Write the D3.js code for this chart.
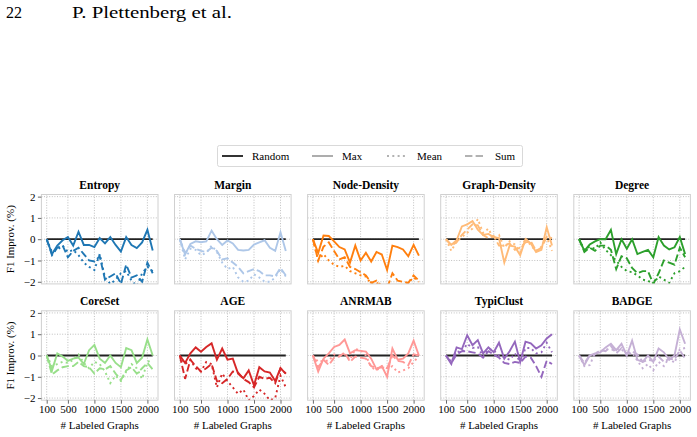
<!DOCTYPE html>
<html>
<head>
<meta charset="utf-8">
<script src="https://cdn.jsdelivr.net/npm/d3@7"></script>
<style>
  body { margin: 0; background: #fff; }
  svg text { font-family: "Liberation Serif", "DejaVu Serif", serif; }
</style>
</head>
<body>
<div id="chart"></div>
<script>
// labeled graph budgets (x axis)
var budgets = [100, 200, 300, 400, 500, 600, 700, 800, 900, 1000, 1100,
               1200, 1300, 1400, 1500, 1600, 1700, 1800, 1900, 2000, 2100];
var xTicks = [100, 500, 1000, 1500, 2000];
var yTicks = [2, 1, 0, -1, -2];

var strategies = ["Entropy", "Margin", "Node-Density", "Graph-Density", "Degree",
                  "CoreSet", "AGE", "ANRMAB", "TypiClust", "BADGE"];
var colors = ["#1f77b4", "#aec7e8", "#ff7f0e", "#ffbb78", "#2ca02c",
              "#98df8a", "#d62728", "#ff9896", "#9467bd", "#c5b0d5"];

// F1 improvement over random (%), per strategy: max / mean / sum
var maxVals = [
  [0, -0.7, -0.3, -0.05, 0.1, -0.3, 0.35, -0.27, -0.27, -0.37, 0.05, -0.2, 0.1, -0.27, -0.58, 0.1, -0.27, -0.42, -0.15, 0.44, -0.53],
  [0, -0.72, -0.22, -0.1, -0.14, -0.1, 0.4, 0.0, -0.27, -0.06, -0.2, -0.5, -0.53, -0.5, -0.25, -0.15, -0.05, -0.4, -0.55, 0.33, -0.55],
  [0, -0.65, 0.17, 0.15, -0.1, -0.37, -0.48, -1.1, -0.3, -1.0, -0.64, -1.05, -0.6, -0.72, -1.45, -0.3, -0.37, -0.48, -0.8, -0.27, -0.77],
  [0, -0.27, -0.05, 0.6, 0.7, 0.85, 0.45, 0.2, 0.25, 0.1, 0.05, -1.1, -0.3, -0.35, -0.75, 0.0, -0.2, -0.6, -0.5, 0.56, -0.3],
  [0, -0.55, -0.25, -0.1, 0.0, 0.0, 0.44, -0.7, 0.0, -0.45, 0.0, -0.7, -0.6, -0.5, -0.85, 0.1, -0.3, -0.48, -0.38, 0.1, -0.7],
  [0, -0.7, 0.1, -0.05, -0.25, -0.15, -0.1, -0.4, 0.25, 0.5, -0.15, -0.35, 0.0, -0.35, -0.55, 0.35, 0.25, -0.35, -0.1, 0.75, 0.0],
  [0, -0.35, 0.1, 0.38, 0.18, 0.4, 0.57, -0.2, 0.33, -0.2, -0.15, -0.85, -1.07, -0.7, -1.4, -0.55, -0.75, -0.8, -1.2, -0.6, -0.85],
  [0, -0.75, -0.15, 0.1, 0.4, 0.5, 0.75, 0.1, 0.25, 0.22, 0.18, -0.15, -0.65, -0.5, -1.0, 0.33, -0.2, -0.15, 0.1, 0.7, 0.0],
  [0, -0.4, 0.38, 0.3, 0.95, 0.48, 0.72, 0.1, 0.38, 0.15, 0.6, -0.15, 0.2, 0.65, -0.3, 0.65, 0.57, 0.33, 0.48, 0.8, 1.0],
  [0, -0.45, 0.0, 0.1, 0.15, 0.38, 0.55, 0.25, 0.55, 0.0, 0.7, -0.2, -0.3, 0.0, -0.3, 0.33, 0.15, -0.2, 0.0, 1.22, 0.55]
];
var meanVals = [
  [0, -0.6, -0.5, -0.3, -0.6, -0.5, -0.75, -1.1, -1.3, -1.45, -0.7, -1.8, -2.1, -1.9, -1.6, -1.5, -1.95, -2.2, -1.6, -1.3, -1.5],
  [0, -0.95, -0.45, -0.5, -0.75, -0.65, -0.3, -0.6, -1.1, -1.4, -1.3, -1.8, -2.0, -1.95, -1.65, -1.8, -2.0, -2.0, -1.8, -1.4, -1.75],
  [0, -1.0, -0.7, -1.0, -1.2, -1.3, -1.25, -1.5, -1.6, -1.7, -1.75, -2.1, -2.05, -2.2, -2.2, -2.3, -2.2, -2.15, -2.05, -1.8, -2.0],
  [0, -0.55, -0.1, 0.1, 0.3, 0.5, 0.95, 0.3, 0.5, 0.0, 0.2, -0.4, -0.1, -0.25, -0.6, 0.05, -0.3, -0.55, -0.35, 0.1, -0.55],
  [0, -0.5, -0.35, -0.45, -0.15, -0.5, -0.75, -1.0, -1.3, -1.5, -1.55, -1.7, -1.9, -1.95, -2.1, -1.75, -1.9, -2.05, -1.6, -1.5, -1.3],
  [0, -0.5, -0.4, -0.3, -0.35, -0.2, 0.05, -0.35, -0.6, -0.3, -0.4, -0.75, -1.3, -0.95, -1.2, -0.75, -0.4, -0.6, -1.1, -0.3, -0.2],
  [0, -0.4, -0.2, -0.6, -0.75, -0.3, -0.4, -1.5, -0.85, -1.2, -1.5, -1.8, -1.6, -2.1, -1.9, -1.6, -1.8, -2.1, -2.0, -0.95, -1.5],
  [0, -0.3, -0.25, -0.25, 0.05, 0.0, 0.05, -0.2, 0.3, 0.25, 0.0, -0.55, -0.7, -0.5, -0.6, -0.5, -0.8, -0.7, -0.6, -0.3, -0.05],
  [0, -0.3, 0.2, 0.15, 0.55, 0.35, 0.4, -0.05, 0.3, 0.25, 0.0, -0.1, -0.2, 0.1, -0.3, 0.35, 0.35, 0.1, 0.15, 0.6, 0.15],
  [0, -0.5, -0.45, 0.1, 0.2, 0.3, 0.25, 0.3, 0.3, 0.0, 0.15, -0.25, -0.6, -0.4, -0.7, -0.3, -0.5, -0.1, -0.35, 0.3, 0.35]
];
var sumVals = [
  [0, -0.75, -0.4, -0.3, -0.85, -0.55, -0.4, -0.7, -1.0, -1.05, -0.8, -1.9, -1.75, -1.6, -2.1, -1.2, -1.8, -1.7, -2.0, -1.1, -1.6],
  [0, -0.65, -0.3, -0.45, -0.55, -0.6, -0.4, -0.55, -0.95, -0.9, -1.1, -1.3, -1.6, -1.5, -1.4, -1.5, -1.7, -1.7, -1.75, -1.35, -1.7],
  [0, -1.0, -0.35, -0.15, -0.55, -0.95, -0.85, -1.3, -1.4, -1.55, -1.7, -2.05, -1.95, -2.2, -2.3, -1.6, -1.95, -2.0, -2.05, -1.7, -1.95],
  [0, -0.3, -0.15, 0.2, 0.45, 0.7, 0.65, 0.2, 0.05, 0.15, -0.3, -0.3, -0.2, -0.5, -0.4, -0.15, -0.1, -0.55, -0.4, 0.1, 0.05],
  [0, -0.6, -0.4, -0.55, -0.3, -0.3, -0.5, -1.4, -0.8, -0.9, -1.35, -1.6, -1.5, -1.5, -2.1, -1.6, -1.0, -1.1, -1.2, -0.4, -0.85],
  [0, -0.9, -0.7, -0.55, -0.5, -0.5, -0.3, -0.5, -0.55, -0.85, -0.6, -0.65, -0.5, -0.85, -1.15, -0.7, -0.55, -0.85, -0.6, -0.35, -0.65],
  [0, -1.1, -0.2, -0.5, -0.75, -0.6, -0.4, -1.2, -1.3, -1.1, -0.75, -0.8, -1.1, -1.25, -1.5, -1.0, -1.1, -1.05, -1.3, -0.6, -0.85],
  [0, -0.55, -0.2, -0.45, -0.1, -0.05, 0.15, -0.3, -0.05, -0.1, -0.15, -0.5, -0.6, -0.55, -0.6, 0.0, -0.25, -0.3, -0.45, 0.05, 0.0],
  [0, -0.35, 0.05, 0.2, 0.2, 0.15, 0.1, -0.1, 0.2, 0.05, -0.1, -0.35, -0.4, -0.3, -0.35, -0.05, -0.1, -0.5, -1.0, -0.25, -0.4],
  [0, -0.35, 0.0, 0.05, 0.25, 0.2, 0.45, 0.1, 0.35, 0.1, 0.2, 0.05, -0.3, -0.2, -0.25, -0.05, -0.3, -0.15, -0.2, 0.25, -0.15]
];

var legendItems = ["Random", "Max", "Mean", "Sum"];

var W = 697, H = 437;
var panelW = 116.6, panelH = 89.4;
var panelX0 = 41.4, panelDX = 133.1;
var rowY = [194.5, 310.8];
var dashes = { mean: "2,3.3", sum: "7.4,3.2" };
var serif = "Liberation Serif, DejaVu Serif, serif";

var svg = d3.select("#chart").append("svg")
    .attr("width", W)
    .attr("height", H)
    .attr("font-family", serif);

function label (g, x, y, size, txt) {
  return g.append("text")
    .attr("x", x).attr("y", y)
    .attr("font-family", serif)
    .attr("font-size", size)
    .text(txt);
}

// running header
label(svg, 6, 18, 16, "22");
label(svg, 72, 18, 16, "P. Plettenberg et al.")
  .attr("textLength", 160).attr("lengthAdjust", "spacingAndGlyphs");

function legend (g) {
  g.append("rect")
    .attr("x", 217.5).attr("y", 145.5)
    .attr("width", 305).attr("height", 21)
    .attr("rx", 2)
    .attr("fill", "#fff").attr("stroke", "#d9d9d9");
  var lx = [222, 312, 387, 465];
  var styles = [
    { c: "#000", d: null },
    { c: "#999", d: null },
    { c: "#999", d: dashes.mean },
    { c: "#999", d: dashes.sum }
  ];
  legendItems.forEach(function (name, i) {
    g.append("line")
      .attr("x1", lx[i]).attr("x2", lx[i] + 21)
      .attr("y1", 156).attr("y2", 156)
      .attr("stroke", styles[i].c)
      .attr("stroke-width", 1.6)
      .attr("stroke-dasharray", styles[i].d);
    label(g, lx[i] + 30, 159.5, 11, name);
  });
}

function panel (i) {
  var row = Math.floor(i / 5), col = i % 5;
  var px = panelX0 + col * panelDX, py = rowY[row];
  var g = svg.append("g").attr("transform", "translate(" + px + "," + py + ")");

  var x = d3.scaleLinear().domain([0, 2200]).range([0, panelW]);
  var y = d3.scaleLinear().domain([-2.1, 2.1]).range([panelH, 0]);

  // grid
  g.selectAll(".gx").data(xTicks).enter().append("line")
    .attr("x1", function (d) { return x(d); }).attr("x2", function (d) { return x(d); })
    .attr("y1", 0).attr("y2", panelH)
    .attr("stroke", "#b0b0b0").attr("stroke-width", 0.8)
    .attr("stroke-dasharray", "1,1.6");
  g.selectAll(".gy").data(yTicks).enter().append("line")
    .attr("x1", 0).attr("x2", panelW)
    .attr("y1", function (d) { return y(d); }).attr("y2", function (d) { return y(d); })
    .attr("stroke", "#b0b0b0").attr("stroke-width", 0.8)
    .attr("stroke-dasharray", "1,1.6");

  var clipId = "clip" + i;
  g.append("clipPath").attr("id", clipId)
    .append("rect").attr("width", panelW).attr("height", panelH);

  var line = d3.line()
    .x(function (d, k) { return x(budgets[k]); })
    .y(function (d) { return y(d); });

  var plot = g.append("g").attr("clip-path", "url(#" + clipId + ")");
  var series = [
    { v: budgets.map(function () { return 0; }), c: "#222", d: null, w: 1.8 },
    { v: maxVals[i], c: colors[i], d: null, w: 1.9 },
    { v: meanVals[i], c: colors[i], d: dashes.mean, w: 1.9 },
    { v: sumVals[i], c: colors[i], d: dashes.sum, w: 1.9 }
  ];
  // random baseline first, strategy lines on top
  [series[0], series[2], series[3], series[1]].forEach(function (s) {
    plot.append("path")
      .datum(s.v)
      .attr("d", line)
      .attr("fill", "none")
      .attr("stroke", s.c)
      .attr("stroke-width", s.w)
      .attr("stroke-dasharray", s.d);
  });

  // frame
  g.append("rect")
    .attr("width", panelW).attr("height", panelH)
    .attr("fill", "none").attr("stroke", "#d0d0d0").attr("stroke-width", 1);

  // title
  label(g, panelW / 2, -6, 11.5, strategies[i])
    .attr("text-anchor", "middle")
    .attr("font-weight", "bold");

  if (col === 0) {
    var ya = g.append("g")
      .call(d3.axisLeft(y).tickValues(yTicks).tickSize(3.5).tickPadding(2.5)
        .tickFormat(function (d) { return d < 0 ? "\u2212" + (-d) : d; }));
    ya.attr("font-family", serif);
    ya.select(".domain").remove();
    ya.selectAll("line").attr("stroke", "#444").attr("stroke-width", 0.8);
    ya.selectAll("text").attr("font-size", 11).attr("font-family", serif).attr("fill", "#000");
    label(g, 0, 0, 11, "F1 Improv. (%)")
      .attr("transform", "translate(" + (-27) + "," + (panelH / 2) + ") rotate(-90)")
      .attr("text-anchor", "middle");
  }
  if (row === 1) {
    var xa = g.append("g").attr("transform", "translate(0," + panelH + ")")
      .call(d3.axisBottom(x).tickValues(xTicks).tickSize(3.5).tickPadding(2)
        .tickFormat(d3.format("d")));
    xa.attr("font-family", serif);
    xa.select(".domain").remove();
    xa.selectAll("line").attr("stroke", "#444").attr("stroke-width", 0.8);
    xa.selectAll("text").attr("font-size", 11).attr("font-family", serif).attr("fill", "#000");
    label(g, panelW / 2, panelH + 29, 11, "# Labeled Graphs")
      .attr("text-anchor", "middle");
  }
}

legend(svg.append("g"));
strategies.forEach(function (s, i) { panel(i); });
</script>
</body>
</html>
